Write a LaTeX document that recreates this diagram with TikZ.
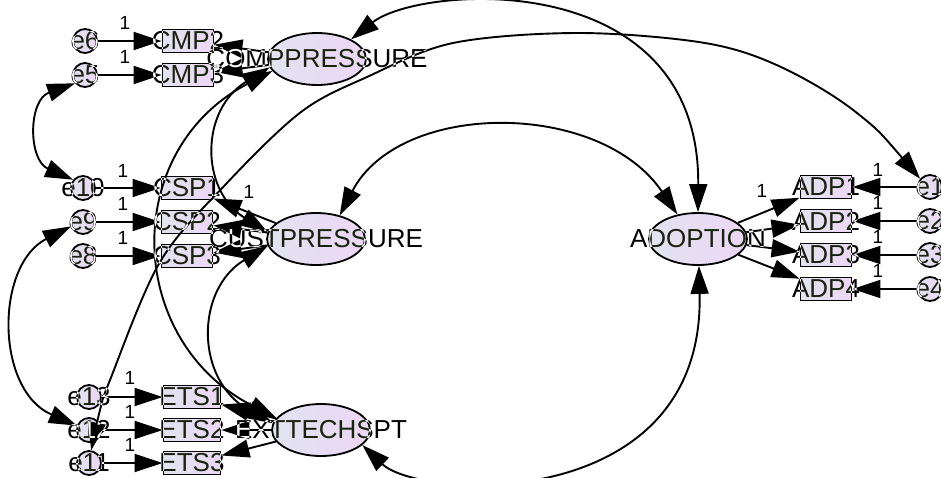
\documentclass[tikz,border=0pt]{standalone}
\usepackage{fontspec}
\setmainfont{Liberation Sans}
\usetikzlibrary{arrows.meta,shapes.geometric}

\definecolor{shadeL}{RGB}{224,228,240}
\definecolor{shadeR}{RGB}{238,214,246}

\tikzset{
  base/.style={draw, line width=1.8pt, inner sep=0pt, left color=shadeL, right color=shadeR},
  latent/.style={base, ellipse, minimum width=98pt, minimum height=52pt},
  observed/.style={base, rectangle, minimum width=51pt, minimum height=23pt},
  wideobs/.style={observed, minimum width=57pt},
  resid/.style={base, circle, minimum size=24pt},
  vname/.style={font=\fontsize{26}{26}\selectfont, inner sep=0pt},
  fixone/.style={font=\fontsize{19}{19}\selectfont, inner sep=0pt},
  load/.style={line width=1.9pt, ->},
  covar/.style={line width=1.9pt, <->},
}

\begin{document}
\begin{tikzpicture}[x=1pt, y=-1pt, >={Triangle[length=28pt,width=18pt]}]
\fill[white] (0,0) rectangle (941,477);
\useasboundingbox (0,0) rectangle (941,477);

% latent variables
\node[latent] (COMP) at (317,59) {};
\node[latent] (CUST) at (316,239) {};
\node[latent] (EXT)  at (321,430) {};
\node[latent] (ADOP) at (698,239) {};

% observed indicators
\node[observed] (CMP2) at (188,41) {};
\node[observed] (CMP3) at (188,75) {};
\node[observed] (CSP1) at (187,188) {};
\node[observed] (CSP2) at (187,222) {};
\node[observed] (CSP3) at (187,256) {};
\node[wideobs]  (ETS1) at (192,397) {};
\node[wideobs]  (ETS2) at (192,430) {};
\node[wideobs]  (ETS3) at (192,463) {};
\node[observed] (ADP1) at (826,187) {};
\node[observed] (ADP2) at (826,221) {};
\node[observed] (ADP3) at (826,255) {};
\node[observed] (ADP4) at (826,289) {};

% residuals
\node[resid] (e6)  at (85,41) {};
\node[resid] (e5)  at (85,75) {};
\node[resid] (e10) at (83,188) {};
\node[resid] (e9)  at (83,222) {};
\node[resid] (e8)  at (83,256) {};
\node[resid] (e13) at (89,397) {};
\node[resid] (e12) at (89,430) {};
\node[resid] (e11) at (89,463) {};
\node[resid] (e1)  at (930,187) {};
\node[resid] (e2)  at (930,221) {};
\node[resid] (e3)  at (930,255) {};
\node[resid] (e4)  at (930,289) {};

% fixed regression weights
\node[fixone] (w6)  at (125,23) {1};
\node[fixone] (w5)  at (125,57) {1};
\node[fixone] (w10) at (123,171) {1};
\node[fixone] (w9)  at (123,204) {1};
\node[fixone] (w8)  at (123,238) {1};
\node[fixone] (wC)  at (249,192) {1};
\node[fixone] (w13) at (130,378) {1};
\node[fixone] (w12) at (130,412) {1};
\node[fixone] (w11) at (130,445) {1};
\node[fixone] (wA)  at (762,191) {1};
\node[fixone] (w1)  at (878,170) {1};
\node[fixone] (w2)  at (878,203) {1};
\node[fixone] (w3)  at (878,237) {1};
\node[fixone] (w4)  at (878,271) {1};

% residual -> indicator
\foreach \e/\v in {e6/CMP2, e5/CMP3, e10/CSP1, e9/CSP2, e8/CSP3,
                   e13/ETS1, e12/ETS2, e11/ETS3,
                   e1/ADP1, e2/ADP2, e3/ADP3, e4/ADP4}
  \draw[load] (\e) -- (\v);

% factor loadings
\foreach \l/\v in {COMP/CMP2, COMP/CMP3, CUST/CSP1, CUST/CSP2, CUST/CSP3,
                   EXT/ETS1, EXT/ETS2, EXT/ETS3,
                   ADOP/ADP1, ADOP/ADP2, ADOP/ADP3, ADOP/ADP4}
  \draw[load] (\l) -- (\v);

% covariances between latent variables
\draw[covar] (COMP.30) .. controls (420,-15) and (700,-35) .. (ADOP.90);
\draw[covar] (CUST.45) .. controls (400,100) and (600,100) .. (ADOP.130);
\draw[covar] (EXT.-20) .. controls (420,500) and (705,515) .. (ADOP.-88);
\draw[covar] (COMP.190) .. controls (200,110) and (200,190) .. (CUST.172);
\draw[covar] (COMP.195) .. controls (120,150) and (125,340) .. (EXT.165);
\draw[covar] (CUST.188) .. controls (195,290) and (195,380) .. (EXT.172);

% covariances between residuals
\draw[covar] (e5.220) .. controls (28,100) and (28,160) .. (e10.140);
\draw[covar] (e9.200) .. controls (-5,265) and (-5,390) .. (e12.160);
\draw[covar] plot[smooth, tension=0.55] coordinates {(e1.140) (857,113) (781,67)
  (705,43) (579,33) (453,43) (367,77) (301,112) (226,184) (160,262)
  (110,380) (100,410) (e11.80)};

% variable names, inverted where they cross dark strokes
\begin{scope}[blend mode=difference, text=white]
\node[vname] (tCOMP) at (COMP) {COMPPRESSURE};
\node[vname] (tCUST) at (CUST) {CUSTPRESSURE};
\node[vname] (tEXT)  at (EXT)  {EXTTECHSPT};
\node[vname] (tADOP) at (ADOP) {ADOPTION};
\node[vname] (tCMP2) at (CMP2) {CMP2};
\node[vname] (tCMP3) at (CMP3) {CMP3};
\node[vname] (tCSP1) at (CSP1) {CSP1};
\node[vname] (tCSP2) at (CSP2) {CSP2};
\node[vname] (tCSP3) at (CSP3) {CSP3};
\node[vname] (tETS1) at (ETS1) {ETS1};
\node[vname] (tETS2) at (ETS2) {ETS2};
\node[vname] (tETS3) at (ETS3) {ETS3};
\node[vname] (tADP1) at (ADP1) {ADP1};
\node[vname] (tADP2) at (ADP2) {ADP2};
\node[vname] (tADP3) at (ADP3) {ADP3};
\node[vname] (tADP4) at (ADP4) {ADP4};
\node[vname] (te6)  at (e6)  {e6};
\node[vname] (te5)  at (e5)  {e5};
\node[vname] (te10) at (e10) {e10};
\node[vname] (te9)  at (e9)  {e9};
\node[vname] (te8)  at (e8)  {e8};
\node[vname] (te13) at (e13) {e13};
\node[vname] (te12) at (e12) {e12};
\node[vname] (te11) at (e11) {e11};
\node[vname] (te1)  at (e1)  {e1};
\node[vname] (te2)  at (e2)  {e2};
\node[vname] (te3)  at (e3)  {e3};
\node[vname] (te4)  at (e4)  {e4};
\end{scope}
\end{tikzpicture}
\end{document}
